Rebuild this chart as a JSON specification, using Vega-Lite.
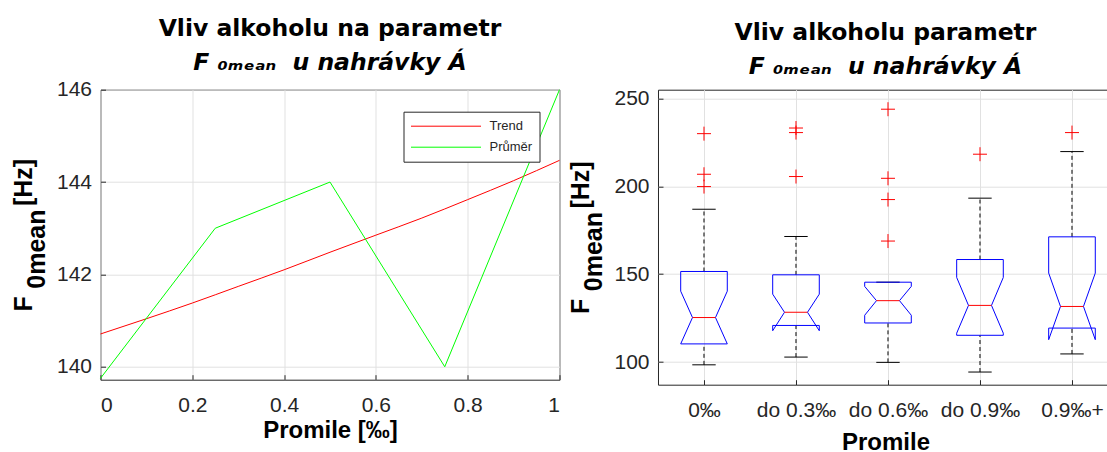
{
  "$schema": "https://vega.github.io/schema/vega-lite/v6.json",
  "background": "white",
  "padding": {"left": 10.5, "top": 16.7, "right": 0, "bottom": 0},
  "spacing": 5.5,
  "resolve": {"scale": {"color": "independent"}, "legend": {"color": "independent"}},
  "config": {
    "view": {"stroke": "#262626", "strokeWidth": 1},
    "axis": {
      "grid": true,
      "gridColor": "#e1e1e1",
      "domain": false,
      "ticks": true,
      "tickSize": -5,
      "tickColor": "#262626",
      "labelFont": "Liberation Sans",
      "labelFontSize": 21,
      "labelColor": "#262626",
      "titleFont": "Liberation Sans",
      "titleFontSize": 25,
      "titleFontWeight": "bold",
      "titleColor": "#000000",
      "titleLineHeight": 13
    },
    "axisX": {"labelPadding": 20, "titlePadding": 3, "labelAngle": 0, "titleFontSize": 24},
    "axisY": {"labelPadding": 14, "titlePadding": 7},
    "title": {
      "font": "DejaVu Sans",
      "fontSize": 23.5,
      "fontWeight": "bold",
      "color": "#000000",
      "subtitleFont": "DejaVu Sans",
      "subtitleFontSize": 23.5,
      "subtitleFontWeight": "bold",
      "subtitleFontStyle": "italic",
      "subtitleColor": "#000000",
      "subtitlePadding": 10,
      "anchor": "middle"
    },
    "legend": {
      "orient": "none",
      "symbolType": "M-1,0H9",
      "symbolSize": 196,
      "symbolStrokeWidth": 1,
      "symbolOpacity": 1,
      "labelFont": "Liberation Sans",
      "labelFontSize": 13,
      "labelColor": "#262626",
      "labelOffset": 64,
      "strokeColor": "#262626",
      "fillColor": "#ffffff",
      "padding": 7,
      "rowPadding": 6
    }
  },
  "datasets": {
    "trend": [
      {"x": 0.0, "y": 140.71},
      {"x": 0.1, "y": 141.04},
      {"x": 0.2, "y": 141.38},
      {"x": 0.3, "y": 141.74},
      {"x": 0.4, "y": 142.10},
      {"x": 0.5, "y": 142.48},
      {"x": 0.6, "y": 142.85},
      {"x": 0.7, "y": 143.22},
      {"x": 0.8, "y": 143.62},
      {"x": 0.9, "y": 144.03},
      {"x": 1.0, "y": 144.47}
    ],
    "mean": [
      {"x": 0.0, "y": 139.75},
      {"x": 0.25, "y": 143.0},
      {"x": 0.5, "y": 144.0},
      {"x": 0.75, "y": 140.0},
      {"x": 1.0, "y": 146.0}
    ],
    "boxes": [
      {"grp": "0‰", "q1": 110.3, "q3": 151.5, "med": 125.3, "nlo": 110.3, "nhi": 140.3, "wlo": 98.4, "whi": 186.9},
      {"grp": "do 0.3‰", "q1": 120.8, "q3": 149.6, "med": 128.3, "nlo": 117.8, "nhi": 138.6, "wlo": 102.8, "whi": 171.4},
      {"grp": "do 0.6‰", "q1": 122.2, "q3": 145.4, "med": 134.9, "nlo": 126.6, "nhi": 143.0, "wlo": 99.8, "whi": 145.4},
      {"grp": "do 0.9‰", "q1": 115.2, "q3": 158.3, "med": 132.2, "nlo": 116.4, "nhi": 148.1, "wlo": 94.3, "whi": 193.2},
      {"grp": "0.9‰+", "q1": 119.3, "q3": 171.2, "med": 131.6, "nlo": 112.7, "nhi": 150.6, "wlo": 104.6, "whi": 219.7}
    ],
    "outliers": [
      {"grp": "0‰", "v": 229.9},
      {"grp": "0‰", "v": 206.8},
      {"grp": "0‰", "v": 199.8},
      {"grp": "do 0.3‰", "v": 233.1},
      {"grp": "do 0.3‰", "v": 230.5},
      {"grp": "do 0.3‰", "v": 205.5},
      {"grp": "do 0.6‰", "v": 243.8},
      {"grp": "do 0.6‰", "v": 204.5},
      {"grp": "do 0.6‰", "v": 192.4},
      {"grp": "do 0.6‰", "v": 168.8},
      {"grp": "do 0.9‰", "v": 218.2},
      {"grp": "0.9‰+", "v": 230.5}
    ]
  },
  "hconcat": [
    {
      "width": 459,
      "height": 290,
      "title": {"text": "Vliv alkoholu na parametr", "subtitle": "F\u00a0₀ₘₑₐₙ\u00a0\u00a0u nahrávky Á", "offset": 4.5},
      "encoding": {
        "x": {"field": "x", "type": "quantitative", "scale": {"domain": [0, 1], "nice": false},
              "axis": {"values": [0, 0.2, 0.4, 0.6, 0.8, 1], "format": "~g", "title": "Promile [‰]"}},
        "y": {"field": "y", "type": "quantitative", "scale": {"domain": [139.72, 146], "nice": false, "zero": false},
              "axis": {"values": [140, 142, 144, 146], "title": ["F\u00a0\u00a0\u00a0\u00a0\u00a0\u00a0\u00a0\u00a0\u00a0\u00a0\u00a0\u00a0\u00a0[Hz]", "0mean\u00a0\u00a0\u00a0\u00a0\u200b"]}},
        "color": {"type": "nominal", "scale": {"domain": ["Trend", "Průměr"], "range": ["#ff0000", "#00ff00"]},
                  "legend": {"title": null, "legendX": 303, "legendY": 22}}
      },
      "layer": [
        {"data": {"name": "trend"}, "mark": {"type": "line", "interpolate": "monotone", "strokeWidth": 1},
         "encoding": {"color": {"datum": "Trend", "type": "nominal"}}},
        {"data": {"name": "mean"}, "mark": {"type": "line", "strokeWidth": 1},
         "encoding": {"color": {"datum": "Průměr", "type": "nominal"}}}
      ]
    },
    {
      "width": 455,
      "height": 295,
      "title": {"text": "Vliv alkoholu parametr", "subtitle": "F\u00a0₀ₘₑₐₙ\u00a0\u00a0u nahrávky Á", "offset": 9.3},
      "data": {"name": "boxes"},
      "encoding": {
        "x": {"field": "grp", "type": "nominal", "sort": ["0‰", "do 0.3‰", "do 0.6‰", "do 0.9‰", "0.9‰+"],
              "scale": {"type": "point", "padding": 0.4728, "align": 0.5287},
              "axis": {"title": "Promile", "grid": true, "titlePadding": 10}}
      },
      "layer": [
        {"mark": {"type": "rule", "color": "#000000", "strokeDash": [4, 3]},
         "encoding": {"y": {"field": "q3", "type": "quantitative", "scale": {"domain": [87.1, 254.9], "nice": false, "zero": false},
                            "axis": {"values": [100, 150, 200, 250], "title": ["F\u00a0\u00a0\u00a0\u00a0\u00a0\u00a0\u00a0\u00a0\u00a0\u00a0\u00a0\u00a0\u00a0[Hz]", "0mean\u00a0\u00a0\u00a0\u00a0\u200b"]}},
                      "y2": {"field": "whi"}}},
        {"mark": {"type": "rule", "color": "#000000", "strokeDash": [4, 3]},
         "encoding": {"y": {"field": "wlo", "type": "quantitative"}, "y2": {"field": "q1"}}},
        {"mark": {"type": "rule", "color": "#000000", "xOffset": -11.7, "x2Offset": 11.7},
         "encoding": {"x2": {"field": "grp"}, "y": {"field": "whi", "type": "quantitative"}}},
        {"mark": {"type": "rule", "color": "#000000", "xOffset": -11.7, "x2Offset": 11.7},
         "encoding": {"x2": {"field": "grp"}, "y": {"field": "wlo", "type": "quantitative"}}},
        {"mark": {"type": "rule", "color": "#0000ff", "xOffset": -23.3, "x2Offset": 23.3},
         "encoding": {"x2": {"field": "grp"}, "y": {"field": "q3", "type": "quantitative"}}},
        {"mark": {"type": "rule", "color": "#0000ff", "xOffset": -23.3, "x2Offset": 23.3},
         "encoding": {"x2": {"field": "grp"}, "y": {"field": "q1", "type": "quantitative"}}},
        {"mark": {"type": "rule", "color": "#0000ff", "xOffset": -23.3},
         "encoding": {"y": {"field": "q3", "type": "quantitative"}, "y2": {"field": "nhi"}}},
        {"mark": {"type": "rule", "color": "#0000ff", "xOffset": 23.3},
         "encoding": {"y": {"field": "q3", "type": "quantitative"}, "y2": {"field": "nhi"}}},
        {"mark": {"type": "rule", "color": "#0000ff", "xOffset": -23.3, "x2Offset": -11.5},
         "encoding": {"x2": {"field": "grp"}, "y": {"field": "nhi", "type": "quantitative"}, "y2": {"field": "med"}}},
        {"mark": {"type": "rule", "color": "#0000ff", "xOffset": 23.3, "x2Offset": 11.5},
         "encoding": {"x2": {"field": "grp"}, "y": {"field": "nhi", "type": "quantitative"}, "y2": {"field": "med"}}},
        {"mark": {"type": "rule", "color": "#0000ff", "xOffset": -11.5, "x2Offset": -23.3},
         "encoding": {"x2": {"field": "grp"}, "y": {"field": "med", "type": "quantitative"}, "y2": {"field": "nlo"}}},
        {"mark": {"type": "rule", "color": "#0000ff", "xOffset": 11.5, "x2Offset": 23.3},
         "encoding": {"x2": {"field": "grp"}, "y": {"field": "med", "type": "quantitative"}, "y2": {"field": "nlo"}}},
        {"mark": {"type": "rule", "color": "#0000ff", "xOffset": -23.3},
         "encoding": {"y": {"field": "nlo", "type": "quantitative"}, "y2": {"field": "q1"}}},
        {"mark": {"type": "rule", "color": "#0000ff", "xOffset": 23.3},
         "encoding": {"y": {"field": "nlo", "type": "quantitative"}, "y2": {"field": "q1"}}},
        {"mark": {"type": "rule", "color": "#ff0000", "xOffset": -11.5, "x2Offset": 11.5},
         "encoding": {"x2": {"field": "grp"}, "y": {"field": "med", "type": "quantitative"}}},
        {"data": {"name": "outliers"},
         "mark": {"type": "point", "shape": "M-1,0H1M0,-1V1", "size": 196, "filled": false, "color": "#ff0000", "strokeWidth": 1, "opacity": 1},
         "encoding": {"y": {"field": "v", "type": "quantitative"}}}
      ]
    }
  ]
}
